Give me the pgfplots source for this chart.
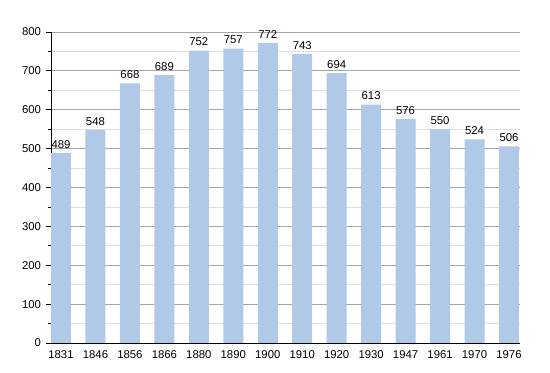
\documentclass[border=0pt]{standalone}
\usepackage{fontspec}
\setmainfont{Liberation Sans}
\usepackage{pgfplots}
\pgfplotsset{compat=1.18}
\definecolor{barblue}{HTML}{AFC9E6}
\begin{document}
\begin{tikzpicture}
\begin{axis}[
  scale only axis,
  width=351.75pt, height=233.25pt,
  xmin=-0.29, xmax=13.32,
  ymin=0, ymax=800,
  ytick={0,100,...,800},
  minor ytick={50,150,...,750},
  xtick={0,...,13},
  xticklabels={1831,1846,1856,1866,1880,1890,1900,1910,1920,1930,1947,1961,1970,1976},
  axis lines*=left,
  axis line style={black, line width=0.6pt, -},
  ymajorgrids, yminorgrids,
  major grid style={gray!70, line width=0.6pt},
  minor grid style={gray!25, line width=0.5pt},
  ytick style={black, line width=0.6pt},
  ytick align=outside,
  major tick length=4pt,
  minor tick length=2pt,
  xtick style={draw=none},
  tick label style={font=\fontsize{8.5}{10}\selectfont},
  /pgf/number format/assume math mode=true,
  xticklabel style={yshift=2pt},
  ybar, bar width=15pt, bar shift=0pt,
  nodes near coords,
  nodes near coords style={font=\fontsize{8.5}{10}\selectfont, black},
  clip=false,
]
\addplot[fill=barblue, draw=none] coordinates {
(0,489) (1,548) (2,668) (3,689) (4,752) (5,757) (6,772)
(7,743) (8,694) (9,613) (10,576) (11,550) (12,524) (13,506)};
\end{axis}
\pgfresetboundingbox
\path[use as bounding box] ([shift={(-38.25pt,-22.5pt)}]current axis.south west) rectangle ([shift={(22.5pt,24pt)}]current axis.north east);
\end{tikzpicture}
\end{document}
